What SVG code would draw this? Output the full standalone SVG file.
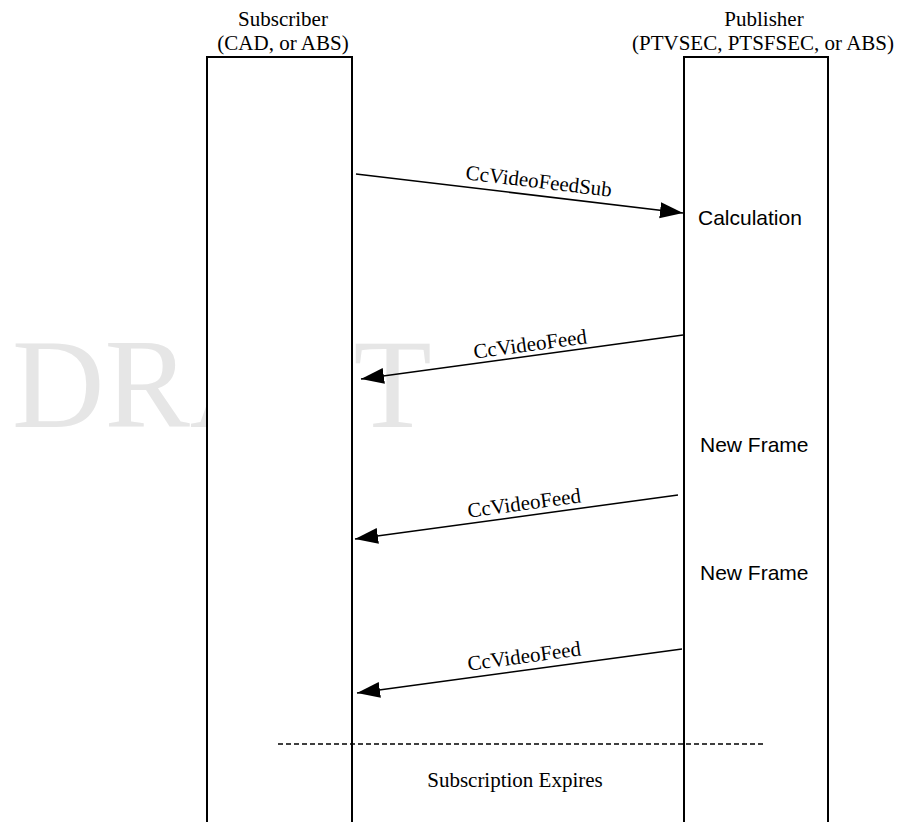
<svg xmlns="http://www.w3.org/2000/svg" width="899" height="822" viewBox="0 0 899 822">
  <style>
    .serif { font-family: "Liberation Serif", "Times New Roman", serif; font-size: 21px; fill: #000; }
    .sans { font-family: "Liberation Sans", Arial, sans-serif; font-size: 21px; fill: #000; }
    .life { fill: #fff; stroke: #000; stroke-width: 2; }
    .msg { stroke: #000; stroke-width: 1.5; fill: none; marker-end: url(#head); }
    .watermark { font-family: "Liberation Serif", "Times New Roman", serif; font-size: 128px; fill: #e6e6e6; }
  </style>
  <defs>
    <marker id="head" markerUnits="userSpaceOnUse" markerWidth="26" markerHeight="18" refX="23" refY="8" orient="auto">
      <path d="M0,0 L23,8 L0,16 Z" fill="#000"/>
    </marker>
  </defs>

  <rect width="899" height="822" fill="#fff"/>

  <!-- watermark behind everything -->
  <text class="watermark" x="12" y="427">DRAFT</text>

  <!-- lifelines -->
  <g id="subscriber">
    <rect class="life" x="207" y="57" width="145" height="800"/>
    <text class="serif" x="283" y="26" text-anchor="middle">Subscriber</text>
    <text class="serif" x="283" y="50" text-anchor="middle">(CAD, or ABS)</text>
  </g>
  <g id="publisher">
    <rect class="life" x="684" y="57" width="144" height="800"/>
    <text class="serif" x="764" y="26" text-anchor="middle">Publisher</text>
    <text class="serif" x="763" y="50" text-anchor="middle">(PTVSEC, PTSFSEC, or ABS)</text>
    <text class="sans" x="698" y="225">Calculation</text>
    <text class="sans" x="700" y="452">New Frame</text>
    <text class="sans" x="700" y="580">New Frame</text>
  </g>

  <!-- messages -->
  <g id="connectors">
    <line class="msg" x1="356" y1="174" x2="683" y2="213"/>
    <text class="serif" transform="translate(538,188) rotate(6.87)" text-anchor="middle">CcVideoFeedSub</text>

    <line class="msg" x1="683" y1="335" x2="361" y2="379"/>
    <text class="serif" transform="translate(531,351) rotate(-7.78)" text-anchor="middle">CcVideoFeed</text>

    <line class="msg" x1="678" y1="495" x2="355" y2="539"/>
    <text class="serif" transform="translate(525,510) rotate(-7.76)" text-anchor="middle">CcVideoFeed</text>

    <line class="msg" x1="682" y1="649" x2="357" y2="693"/>
    <text class="serif" transform="translate(525,663) rotate(-7.71)" text-anchor="middle">CcVideoFeed</text>
  </g>

  <!-- end of subscription -->
  <g id="expiry">
    <line x1="278" y1="744" x2="766" y2="744" stroke="#000" stroke-width="1.5" stroke-dasharray="5,3"/>
    <text class="serif" x="515" y="787" text-anchor="middle">Subscription Expires</text>
  </g>
</svg>
